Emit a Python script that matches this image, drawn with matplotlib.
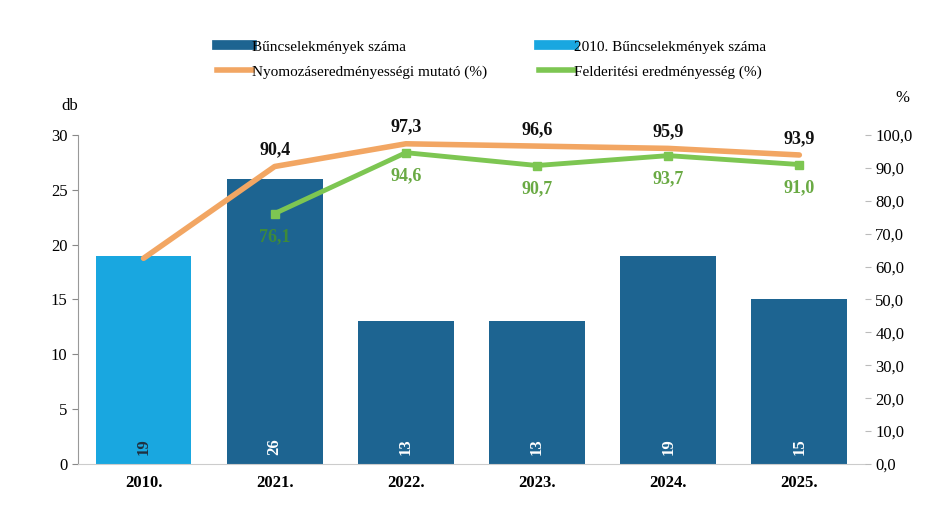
import matplotlib
matplotlib.use('Agg')
import matplotlib.pyplot as plt
import numpy as np

# adatok
evek = ['2010.', '2021.', '2022.', '2023.', '2024.', '2025.']
buncselekmenyek = [19, 26, 13, 13, 19, 15]
nyomozasi = [62.5, 90.4, 97.3, 96.6, 95.9, 93.9]
felderitesi = [None, 76.1, 94.6, 90.7, 93.7, 91.0]

plt.rcParams['font.family'] = ['Liberation Serif', 'DejaVu Serif']

sotet = '#1d6491'
vilagos = '#19a7e0'
narancs = '#f2a663'
zold = '#7dc652'

fig = plt.figure(figsize=(9.28, 5.11), dpi=100)
ax = fig.add_axes([0.084, 0.092, 0.848, 0.644])
ax2 = ax.twinx()

x = np.arange(len(evek))
szinek = [vilagos] + [sotet] * (len(evek) - 1)
rudak = ax.bar(x, buncselekmenyek, width=0.73, color=szinek, zorder=2)

for i, v in enumerate(buncselekmenyek):
    ax.text(x[i], 1.6, str(v), rotation=90, ha='center', va='center',
            color='#203040' if i == 0 else 'white', fontsize=12, fontweight='bold', zorder=3)

ax.set_ylim(0, 30)
ax.set_yticks(range(0, 31, 5))
ax.set_xlim(-0.5, len(evek) - 0.5)
ax.set_xticks(x)
ax.set_xticklabels(evek, fontsize=12, fontweight='bold')
ax.tick_params(axis='y', labelsize=12, length=4, color='#888888')
ax.tick_params(axis='x', length=0, pad=8)
for s in ['top', 'right']:
    ax.spines[s].set_visible(False)
ax.spines['left'].set_color('#999999')
ax.spines['bottom'].set_color('#cccccc')

# vonalak
ax2.plot(x, nyomozasi, color=narancs, lw=4, zorder=4, solid_capstyle='round')
fx = [x[i] for i in range(len(evek)) if felderitesi[i] is not None]
fy = [v for v in felderitesi if v is not None]
ax2.plot(fx, fy, color=zold, lw=3.5, marker='s', ms=6, zorder=5)

for i in range(1, len(evek)):
    ax2.text(x[i], nyomozasi[i] + 2.5, f'{nyomozasi[i]:.1f}'.replace('.', ','),
             ha='center', va='bottom', fontsize=13, fontweight='bold', color='#111111')
for i, v in enumerate(felderitesi):
    if v is None:
        continue
    ax2.text(x[i], v - 4.5, f'{v:.1f}'.replace('.', ','), ha='center', va='top',
             fontsize=13, fontweight='bold', color='#6aaa44' if i > 1 else '#3e8a3a')

ax2.set_ylim(0, 100)
ax2.set_yticks(range(0, 101, 10))
ax2.set_yticklabels([f'{v},0' for v in range(0, 101, 10)], fontsize=12)
ax2.tick_params(axis='y', length=4, color='#bbbbbb')
for s in ['top', 'left', 'right', 'bottom']:
    ax2.spines[s].set_visible(False)

fig.text(0.075, 0.785, 'db', fontsize=12, ha='center')
fig.text(0.972, 0.80, '%', fontsize=12, ha='center')

# jelmagyarázat
from matplotlib.lines import Line2D
kezelok = [Line2D([0], [0], color=sotet, lw=7),
           Line2D([0], [0], color=narancs, lw=4),
           Line2D([0], [0], color=vilagos, lw=7),
           Line2D([0], [0], color=zold, lw=4)]
cimkek = ['Bűncselekmények száma', 'Nyomozáseredményességi mutató (%)',
          '2010. Bűncselekmények száma', 'Felderitési eredményesség (%)']
fig.legend(kezelok, cimkek, ncol=2, loc='upper left', bbox_to_anchor=(0.234, 0.922),
           frameon=False, fontsize=11, handlelength=2.3, handletextpad=0.0,
           columnspacing=3.4, labelspacing=0.75, borderpad=0, borderaxespad=0)

plt.savefig('out.png', dpi=100)
